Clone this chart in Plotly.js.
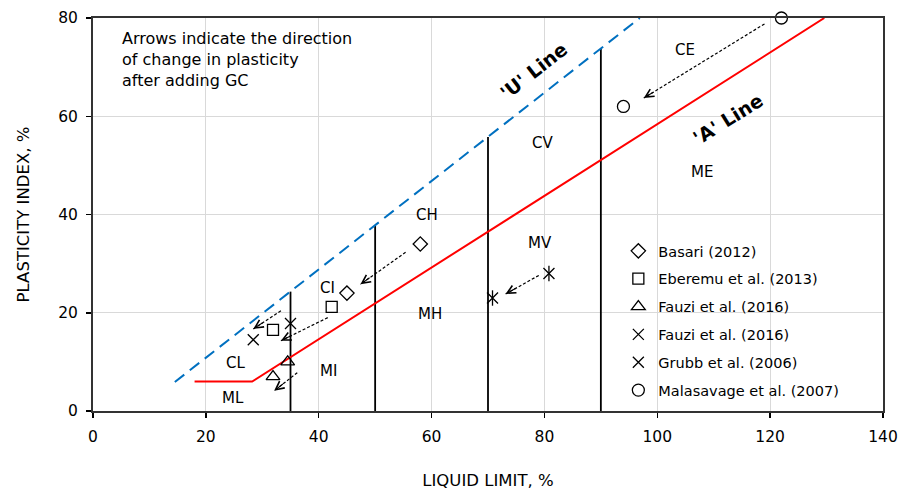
<!DOCTYPE html>
<html>
<head>
<meta charset="utf-8">
<script src="https://cdn.plot.ly/plotly-3.0.1.min.js"></script>
<style>html,body{margin:0;padding:0;background:#fff;}#chart{width:909px;height:494px;}</style>
</head>
<body>
<div id="chart"></div>
<script>
// ---- data ----
const basariLL = [58, 45];
const basariPI = [34, 24];
const eberemuLL = [42.3, 31.9];
const eberemuPI = [21.2, 16.5];
const fauziTriLL = [34.5, 31.9];
const fauziTriPI = [10, 7];
const fauziXLL = [35, 28.4];
const fauziXPI = [17.8, 14.5];
const grubbLL = [80.8, 70.8];
const grubbPI = [28, 23];
const malaLL = [122, 94];
const malaPI = [80, 62];

// classification lines
const uLineLL = [14.5, 96.9];
const uLinePI = [5.9, 80];
const aLineLL = [18, 28.2, 129.6];
const aLinePI = [6, 6, 80];
const divLL = [35, 50, 70, 90];
const divTopPI = [24.3, 37.8, 55.8, 73.8];

// arrows (start -> end)
const arrowX0 = [33.3, 41.6, 36.2, 55.4, 79.0, 119.0];
const arrowY0 = [20.4, 19.0, 7.8, 32.3, 27.6, 78.8];
const arrowX1 = [28.4, 33.3, 32.1, 47.4, 73.1, 97.6];
const arrowY1 = [16.7, 14.3, 4.1, 25.8, 23.8, 63.7];

// zone labels
const zoneNames = ['CL', 'ML', 'MI', 'CI', 'CH', 'MH', 'CV', 'MV', 'CE', 'ME'];
const zoneLL = [25.3, 24.8, 41.8, 41.5, 59.2, 59.7, 79.6, 79.2, 104.9, 107.9];
const zonePI = [9.8, 2.7, 8.2, 25.1, 40, 19.8, 54.5, 34.3, 73.5, 48.6];

const xTicks = [0, 20, 40, 60, 80, 100, 120, 140];
const yTicks = [0, 20, 40, 60, 80];

const FONT = 'DejaVu Sans, Verdana, sans-serif';
const X_RANGE = [0, 140], Y_RANGE = [0, 80];
const M = {l: 93, r: 26, t: 18, b: 83};
const W = 909, H = 494;

// ---- traces ----
const traces = [];
const vx = [], vy = [];
divLL.forEach((v, i) => { vx.push(v, v, null); vy.push(0, divTopPI[i], null); });
traces.push({x: vx, y: vy, mode: 'lines', line: {color: '#000', width: 1.8}, showlegend: false, hoverinfo: 'skip'});
traces.push({x: uLineLL, y: uLinePI, mode: 'lines', line: {color: '#0070C0', width: 2, dash: '12px,7px'}, showlegend: false, hoverinfo: 'skip'});
traces.push({x: aLineLL, y: aLinePI, mode: 'lines', line: {color: '#FF0000', width: 2}, showlegend: false, hoverinfo: 'skip'});
const ax = [], ay = [];
arrowX0.forEach((v, i) => { ax.push(v, arrowX1[i], null); ay.push(arrowY0[i], arrowY1[i], null); });
traces.push({x: ax, y: ay, mode: 'lines', line: {color: '#000', width: 1.2, dash: '3px,2px'}, showlegend: false, hoverinfo: 'skip'});

const mk = (sym, size) => ({symbol: sym, size: size, color: '#000', line: {color: '#000', width: 1.3}});
traces.push({x: basariLL, y: basariPI, mode: 'markers', name: 'Basari (2012)', legendgroup: 'a', marker: mk('diamond-open', 11)});
traces.push({x: eberemuLL, y: eberemuPI, mode: 'markers', name: 'Eberemu et al. (2013)', legendgroup: 'b', marker: mk('square-open', 11)});
traces.push({x: fauziTriLL, y: fauziTriPI, mode: 'markers', name: 'Fauzi et al. (2016)', legendgroup: 'c', marker: mk('triangle-up-open', 12)});
traces.push({x: fauziXLL, y: fauziXPI, mode: 'markers', name: 'Fauzi et al. (2016)', legendgroup: 'd', marker: mk('x-thin-open', 11)});
traces.push({x: grubbLL, y: grubbPI, mode: 'markers', name: 'Grubb et al. (2006)', legendgroup: 'e', marker: mk('x-thin-open', 11)});
traces.push({x: grubbLL, y: grubbPI, mode: 'markers', showlegend: false, legendgroup: 'e', marker: mk('line-ns-open', 11)});
traces.push({x: malaLL, y: malaPI, mode: 'markers', name: 'Malasavage et al. (2007)', legendgroup: 'f', cliponaxis: false, marker: mk('circle-open', 12)});

// ---- annotations ----
const annotations = [];
zoneNames.forEach((n, i) => annotations.push({x: zoneLL[i], y: zonePI[i], text: n, showarrow: false, font: {family: FONT, size: 15, color: '#000'}}));
annotations.push({x: 78.0, y: 69.3, text: "<b>'U' Line</b>", showarrow: false, textangle: -38, font: {family: FONT, size: 19, color: '#000'}});
annotations.push({x: 112.5, y: 59.4, text: "<b>'A' Line</b>", showarrow: false, textangle: -32, font: {family: FONT, size: 19, color: '#000'}});
annotations.push({x: 4.8, y: 78.2, xanchor: 'left', yanchor: 'top', align: 'left', showarrow: false,
  text: 'Arrows indicate the direction<br>of change in plasticity<br>after adding GC', font: {family: FONT, size: 16, color: '#000'}});
// arrow heads: short solid stub (fixed pixel length) along each dashed shaft
const pxX = (W - M.l - M.r) / (X_RANGE[1] - X_RANGE[0]);
const pxY = (H - M.t - M.b) / (Y_RANGE[1] - Y_RANGE[0]);
arrowX0.forEach((v, i) => {
  const dx = (v - arrowX1[i]) * pxX;
  const dy = -(arrowY0[i] - arrowY1[i]) * pxY;
  const len = Math.hypot(dx, dy);
  const stub = 13;
  annotations.push({x: arrowX1[i], y: arrowY1[i], ax: dx / len * stub, ay: dy / len * stub, xref: 'x', yref: 'y',
    showarrow: true, arrowhead: 5, arrowsize: 1.5, arrowwidth: 1.1, arrowcolor: '#000', text: '', standoff: 0});
});

const layout = {
  width: W, height: H,
  margin: M,
  paper_bgcolor: '#fff', plot_bgcolor: '#fff',
  font: {family: FONT, color: '#000'},
  xaxis: {range: X_RANGE, tickvals: xTicks, ticks: 'outside', ticklen: 5, tickcolor: '#000', tickwidth: 1.5,
    showline: true, linecolor: '#333', linewidth: 2, mirror: true, showgrid: true, gridcolor: '#d9d9d9', gridwidth: 1,
    zeroline: false, tickfont: {family: FONT, size: 15.5, color: '#000'}, ticklabelstandoff: 5,
    title: {text: 'LIQUID LIMIT, %', font: {family: FONT, size: 16.5, color: '#000'}, standoff: 30}},
  yaxis: {range: Y_RANGE, tickvals: yTicks, ticks: 'outside', ticklen: 5, tickcolor: '#000', tickwidth: 1.5,
    showline: true, linecolor: '#333', linewidth: 2, mirror: true, showgrid: true, gridcolor: '#d9d9d9', gridwidth: 1,
    zeroline: false, tickfont: {family: FONT, size: 15.5, color: '#000'}, ticklabelstandoff: 5,
    title: {text: 'PLASTICITY INDEX, %', font: {family: FONT, size: 16.5, color: '#000'}, standoff: 24}},
  showlegend: true,
  legend: {x: 0.665, y: 0.448, xanchor: 'left', yanchor: 'top', bgcolor: 'rgba(255,255,255,0)',
    font: {family: FONT, size: 14.5, color: '#000'}, traceorder: 'grouped', tracegroupgap: 6, itemwidth: 30},
  annotations: annotations
};

Plotly.newPlot('chart', traces, layout, {staticPlot: true, displayModeBar: false});
</script>
</body>
</html>
